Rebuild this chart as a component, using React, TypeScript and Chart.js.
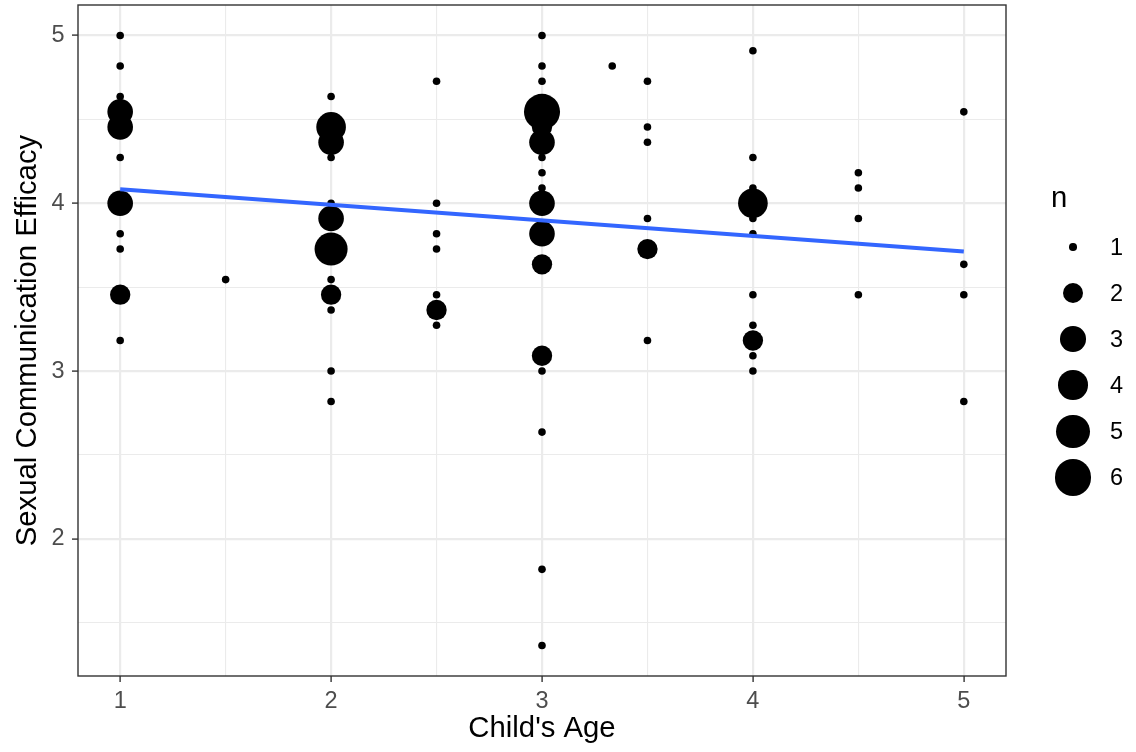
import React, { useEffect, useRef } from "react";
import { Chart, registerables } from "chart.js";

Chart.register(...registerables);

// ---- data ----
const childAge = [
  1, 1, 1, 1, 1, 1, 1, 1, 1, 1, 1,
  1.5,
  2, 2, 2, 2, 2, 2, 2, 2, 2, 2, 2, 2,
  2.5, 2.5, 2.5, 2.5, 2.5, 2.5, 2.5,
  3, 3, 3, 3, 3, 3, 3, 3, 3, 3, 3, 3, 3, 3, 3, 3, 3,
  3.333,
  3.5, 3.5, 3.5, 3.5, 3.5, 3.5,
  4, 4, 4, 4, 4, 4, 4, 4, 4, 4, 4,
  4.5, 4.5, 4.5, 4.5,
  5, 5, 5, 5,
];
const efficacy = [
  5.0, 4.818, 4.636, 4.545, 4.455, 4.273, 4.0, 3.818, 3.727, 3.455, 3.182,
  3.545,
  4.636, 4.455, 4.364, 4.273, 4.0, 3.909, 3.727, 3.545, 3.455, 3.364, 3.0, 2.818,
  4.727, 4.0, 3.818, 3.727, 3.455, 3.364, 3.273,
  5.0, 4.818, 4.727, 4.545, 4.455, 4.364, 4.273, 4.182, 4.091, 4.0, 3.818, 3.636, 3.091, 3.0, 2.636, 1.818, 1.364,
  4.818,
  4.727, 4.455, 4.364, 3.909, 3.727, 3.182,
  4.909, 4.273, 4.091, 4.0, 3.909, 3.818, 3.455, 3.273, 3.182, 3.091, 3.0,
  4.182, 4.091, 3.909, 3.455,
  4.545, 3.636, 3.455, 2.818,
];
const counts = [
  1, 1, 1, 3, 3, 1, 3, 1, 1, 2, 1,
  1,
  1, 4, 3, 1, 1, 3, 5, 1, 2, 1, 1, 1,
  1, 1, 1, 1, 1, 2, 1,
  1, 1, 1, 6, 2, 3, 1, 1, 1, 3, 3, 2, 2, 1, 1, 1, 1,
  1,
  1, 1, 1, 1, 2, 1,
  1, 1, 1, 4, 1, 1, 1, 1, 2, 1, 1,
  1, 1, 1, 1,
  1, 1, 1, 1,
];
const fitAge = [1, 5];
const fitEfficacy = [4.084, 3.713];
const xTicks = [1, 1.5, 2, 2.5, 3, 3.5, 4, 4.5, 5];
const yTicks = [1.5, 2, 2.5, 3, 3.5, 4, 4.5, 5];
const legendCounts = [1, 2, 3, 4, 5, 6];

const FONT = "'Liberation Sans', Arial, sans-serif";
const TITLE_PX = 29.3;
const TICK_PX = 23.5;

const minN = Math.min(...counts);
const maxN = Math.max(...counts);
// ggplot-like area scale (range 1..6 mm) converted to pixel radius
const radiusFor = (n: number) => {
  const t = (n - minN) / (maxN - minN);
  const size = 1 + 5 * Math.sqrt(t);
  return (size * 2.845 + 0.945) * 2.67 * 0.375;
};

const isMajor = (v: number) => Math.abs(v - Math.round(v)) < 1e-9;

export default function App() {
  const canvasRef = useRef<HTMLCanvasElement | null>(null);

  useEffect(() => {
    if (!canvasRef.current) return;
    const xMinD = Math.min(...childAge);
    const xMaxD = Math.max(...childAge);
    const yMinD = Math.min(...efficacy);
    const yMaxD = Math.max(...efficacy);
    const xPad = (xMaxD - xMinD) * 0.05;
    const yPad = (yMaxD - yMinD) * 0.05;

    const panelBorder = {
      id: "panelBorder",
      afterDraw(chart: any) {
        const { ctx, chartArea } = chart;
        ctx.save();
        ctx.strokeStyle = "#333333";
        ctx.lineWidth = 1.4;
        ctx.strokeRect(chartArea.left, chartArea.top, chartArea.right - chartArea.left, chartArea.bottom - chartArea.top);
        ctx.restore();
      },
    };

    const gridOpts = {
      color: "#EBEBEB",
      lineWidth: (c: any) => (c.tick && isMajor(c.tick.value) ? 2.2 : 1.1),
      tickColor: (c: any) => (c.tick && isMajor(c.tick.value) ? "#333333" : "rgba(0,0,0,0)"),
      tickLength: 6,
      tickWidth: 1.4,
      drawTicks: true,
    };

    const chart = new Chart(canvasRef.current, {
      type: "scatter",
      data: {
        datasets: [
          {
            type: "line",
            data: fitAge.map((x, i) => ({ x, y: fitEfficacy[i] })),
            borderColor: "#3366FF",
            borderWidth: 4,
            pointRadius: 0,
            fill: false,
            showLine: true,
          } as any,
          {
            type: "scatter",
            data: childAge.map((x, i) => ({ x, y: efficacy[i] })),
            backgroundColor: "#000000",
            borderWidth: 0,
            pointRadius: counts.map(radiusFor),
            pointHoverRadius: counts.map(radiusFor),
          } as any,
        ],
      },
      options: {
        responsive: false,
        animation: false,
        devicePixelRatio: 1,
        events: [],
        layout: { autoPadding: false, padding: { left: 0, right: 130, top: 5, bottom: 0 } },
        plugins: { legend: { display: false }, tooltip: { enabled: false } },
        scales: {
          x: {
            type: "linear",
            min: xMinD - xPad,
            max: xMaxD + xPad,
            afterBuildTicks: (s: any) => {
              s.ticks = xTicks.map((v) => ({ value: v }));
            },
            afterFit: (s: any) => {
              s.height = 76;
              s.paddingLeft = 0;
              s.paddingRight = 0;
            },
            border: { display: false },
            grid: gridOpts as any,
            ticks: {
              autoSkip: false,
              maxRotation: 0,
              padding: 5,
              color: "#4D4D4D",
              font: { family: FONT, size: TICK_PX },
              callback: (v: any) => (isMajor(Number(v)) ? String(v) : ""),
            },
            title: {
              display: true,
              text: "Child's Age",
              color: "#000000",
              font: { family: FONT, size: TITLE_PX },
              padding: { top: 0, bottom: 5.6 },
            },
          },
          y: {
            type: "linear",
            min: yMinD - yPad,
            max: yMaxD + yPad,
            afterBuildTicks: (s: any) => {
              s.ticks = yTicks.map((v) => ({ value: v }));
            },
            afterFit: (s: any) => {
              s.width = 78;
              s.paddingTop = 0;
              s.paddingBottom = 0;
            },
            border: { display: false },
            grid: gridOpts as any,
            ticks: {
              autoSkip: false,
              padding: 7.5,
              color: "#4D4D4D",
              font: { family: FONT, size: TICK_PX },
              callback: (v: any) => (isMajor(Number(v)) ? String(v) : ""),
            },
            title: {
              display: true,
              text: "Sexual Communication Efficacy",
              color: "#000000",
              font: { family: FONT, size: TITLE_PX },
              padding: { top: 10.7, bottom: 0 },
            },
          },
        },
      },
      plugins: [panelBorder],
    } as any);

    return () => chart.destroy();
  }, []);

  return (
    <div style={{ position: "absolute", left: 0, top: 0, width: 1136, height: 752, background: "#FFFFFF" }}>
      <canvas ref={canvasRef} width={1136} height={752} style={{ position: "absolute", left: 0, top: 0 }} />
      <div
        style={{
          position: "absolute",
          left: 1051,
          top: 180,
          fontFamily: FONT,
          fontSize: TITLE_PX,
          lineHeight: "33px",
          color: "#000000",
        }}
      >
        n
      </div>
      {legendCounts.map((n, i) => {
        const cy = 247 + i * 46.1;
        const r = radiusFor(n);
        return (
          <div
            key={n}
            style={{
              position: "absolute",
              left: 1050,
              top: cy - 23,
              height: 46,
              display: "flex",
              alignItems: "center",
              fontFamily: FONT,
              fontSize: TICK_PX,
              color: "#000000",
            }}
          >
            <div style={{ width: 46, height: 46, display: "flex", alignItems: "center", justifyContent: "center" }}>
              <div style={{ width: 2 * r, height: 2 * r, borderRadius: "50%", background: "#000000" }} />
            </div>
            <div style={{ marginLeft: 14, lineHeight: "normal" }}>{n}</div>
          </div>
        );
      })}
    </div>
  );
}
